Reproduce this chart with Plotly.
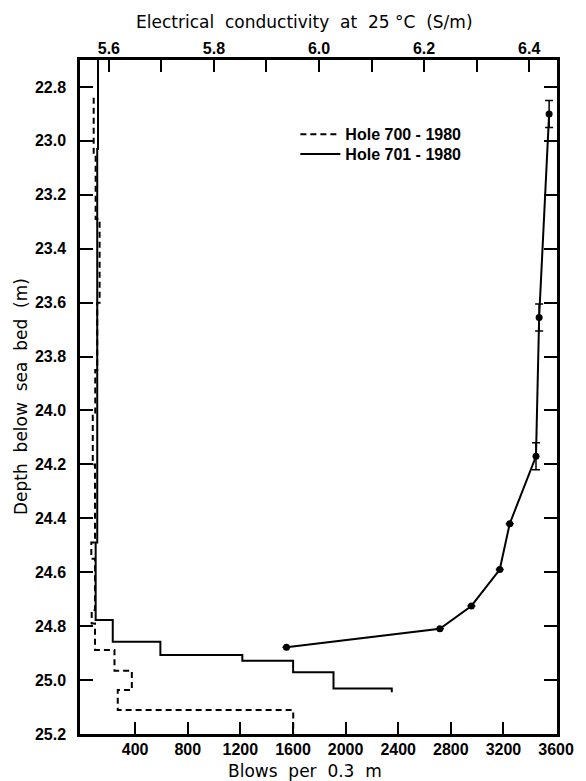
import plotly.graph_objects as go

# ---- tick definitions ----
depth_ticks = [22.8, 23.0, 23.2, 23.4, 23.6, 23.8, 24.0, 24.2, 24.4, 24.6, 24.8, 25.0, 25.2]
blows_ticks = [400, 800, 1200, 1600, 2000, 2400, 2800, 3200, 3600]
cond_ticks = [5.6, 5.7, 5.8, 5.9, 6.0, 6.1, 6.2, 6.3, 6.4]
cond_ticktext = ["5.6", "", "5.8", "", "6.0", "", "6.2", "", "6.4"]

# ---- Hole 700-1980 : blows per 0.3 m (dashed step profile) ----
h700_bounds = [22.84, 23.05, 23.29, 23.60, 23.85, 24.02, 24.20, 24.49, 24.55, 24.74, 24.79,
               24.888, 24.965, 25.037, 25.111, 25.2]
h700_blows = [85, 100, 130, 112, 97, 78, 95, 67, 95, 70, 95, 243, 375, 268, 1602]

# ---- Hole 701-1980 : blows per 0.3 m (solid step profile) ----
h701_bounds = [22.70, 23.03, 24.49, 24.777, 24.858, 24.907, 24.928, 24.971, 25.031, 25.045]
h701_blows = [118, 112, 100, 230, 592, 1215, 1601, 1908, 2351]

# ---- Hole 701-1980 : electrical conductivity at 25 C ----
cond_depth = [22.90, 23.655, 24.17, 24.42, 24.59, 24.725, 24.81, 24.878]
cond_value = [6.438, 6.419, 6.413, 6.363, 6.344, 6.290, 6.230, 5.938]
cond_err = [0.05, 0.05, 0.05, float("nan"), float("nan"), float("nan"), float("nan"), float("nan")]


def steps(bounds, vals):
    xs, ys = [], []
    for i, v in enumerate(vals):
        xs += [v, v]
        ys += [bounds[i], bounds[i + 1]]
    return xs, ys


x700, y700 = steps(h700_bounds, h700_blows)
x701, y701 = steps(h701_bounds, h701_blows)

fig = go.Figure()
fig.add_trace(go.Scatter(x=x700, y=y700, mode="lines", name="Hole 700 - 1980", legend="legend",
                         line=dict(color="black", width=2, dash="6px,4px")))
fig.add_trace(go.Scatter(x=x701, y=y701, mode="lines", name="Hole 701 - 1980", legend="legend2",
                         line=dict(color="black", width=2)))
fig.add_trace(go.Scatter(x=cond_value, y=cond_depth, xaxis="x2", yaxis="y", mode="lines+markers",
                         showlegend=False,
                         line=dict(color="black", width=2),
                         marker=dict(color="black", size=7),
                         error_y=dict(type="data", array=cond_err, visible=True,
                                      color="black", thickness=1.5, width=4)))

tickfont = dict(family="Liberation Sans", size=16, color="black", weight="bold")
titlefont = dict(family="DejaVu Sans", size=17, color="black")
legfont = dict(family="Liberation Sans", size=16, color="black", weight="bold")
gap = "\u00a0 "

fig.update_layout(
    width=586, height=781,
    margin=dict(l=80, r=21, t=60, b=47),
    paper_bgcolor="white", plot_bgcolor="white",
    showlegend=True,
    legend=dict(x=0.4515, y=0.915, xanchor="left", yanchor="top", itemwidth=40,
                bgcolor="rgba(0,0,0,0)", borderwidth=0, font=legfont),
    legend2=dict(x=0.4515, y=0.8855, xanchor="left", yanchor="top", itemwidth=40,
                 bgcolor="rgba(0,0,0,0)", borderwidth=0, font=legfont),
    xaxis=dict(range=[-19, 3607], tickvals=blows_ticks, ticks="inside", ticklen=12,
               tickwidth=2, tickcolor="black", showline=True, linewidth=2.5,
               linecolor="black", mirror=False, showgrid=False, zeroline=False,
               tickfont=tickfont, ticklabelstandoff=-1),
    xaxis2=dict(range=[5.545, 6.453], overlaying="x", side="top", anchor="y",
                tickvals=cond_ticks, ticktext=cond_ticktext, ticks="inside", ticklen=12,
                tickwidth=2, tickcolor="black", showline=True, linewidth=2.5,
                linecolor="black", showgrid=False, zeroline=False,
                tickfont=tickfont, ticklabelstandoff=-3),
    yaxis=dict(range=[25.2, 22.7], tickvals=depth_ticks, tickformat=".1f",
               ticks="inside", ticklen=13, tickwidth=2, tickcolor="black",
               showline=True, linewidth=2.5, linecolor="black", mirror="ticks",
               showgrid=False, zeroline=False, tickfont=tickfont, ticklabelstandoff=8),
    annotations=[
        dict(text=gap.join(["Electrical", "conductivity", "at", "25\u00a0°C", "(S/m)"]),
             xref="paper", yref="paper", x=0.47, y=1.0564, xanchor="center", yanchor="middle",
             showarrow=False, font=titlefont),
        dict(text=gap.join(["Blows", "per", "0.3", "m"]),
             xref="paper", yref="paper", x=0.472, y=-0.055, xanchor="center", yanchor="middle",
             showarrow=False, font=titlefont),
        dict(text=gap.join(["Depth", "below", "sea", "bed", "(m)"]),
             xref="paper", yref="paper", x=-0.1237, y=0.5015, xanchor="center", yanchor="middle",
             textangle=-90, showarrow=False, font=titlefont),
    ],
)

fig.write_html("out.html")
